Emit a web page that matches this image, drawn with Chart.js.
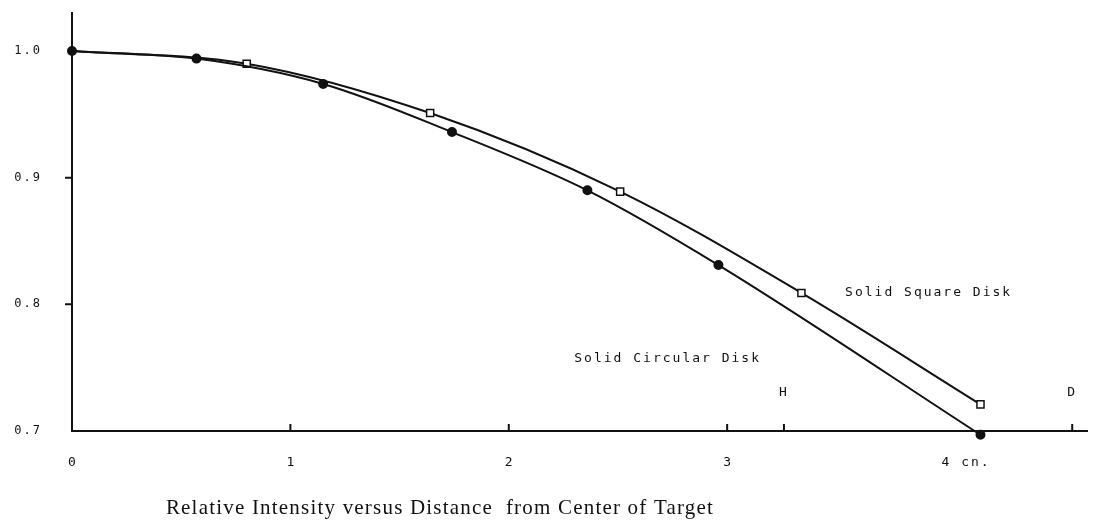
<!DOCTYPE html>
<html>
<head>
<meta charset="utf-8">
<script src="https://cdn.jsdelivr.net/npm/chart.js@4.4.1/dist/chart.umd.min.js"></script>
<style>
  html, body { margin: 0; padding: 0; background: #fff; }
  #wrap { width: 1094px; height: 523px; }
</style>
</head>
<body>
<div id="wrap"><canvas id="chart"></canvas></div>
<script>
// distance from center (cm) vs relative intensity
const circleX = [0, 0.57, 1.15, 1.74, 2.36, 2.96, 4.16];
const circleY = [1.0, 0.994, 0.974, 0.936, 0.890, 0.831, 0.697];
const squareX = [0, 0.80, 1.64, 2.51, 3.34, 4.16];
const squareY = [1.0, 0.990, 0.951, 0.889, 0.809, 0.721];

const xTicks = [0, 1, 2, 3, 4];
const xTickLabels = ['0', '1', '2', '3', '4 cn.'];
const yTicks = [0.7, 0.8, 0.9, 1.0];
const yTickLabels = ['0.7', '0.8', '0.9', '1.0'];
const markLabels = ['H', 'D'];
const markX = [3.26, 4.58];

const ink = '#111';
const mono = '"DejaVu Sans Mono", monospace';

const toPoints = (xs, ys) => xs.map((x, i) => ({ x: x, y: ys[i] }));

// tick marks, H / D marks, curve names and caption
const extras = {
    id: 'extras',
    beforeDraw(c) {
        c.ctx.letterSpacing = '2px';
    },
    afterDraw(c) {
        const ctx = c.ctx;
        const x = c.scales.x, y = c.scales.y;
        const base = y.getPixelForValue(0.7);
        ctx.save();
        ctx.strokeStyle = ink;
        ctx.lineWidth = 2;
        ctx.beginPath();
        xTicks.slice(1, 4).concat(markX).forEach(v => {
            const px = x.getPixelForValue(v);
            ctx.moveTo(px, base);
            ctx.lineTo(px, base - 7);
        });
        [0.8, 0.9].forEach(v => {
            const py = y.getPixelForValue(v);
            ctx.moveTo(x.left - 7, py);
            ctx.lineTo(x.left, py);
        });
        ctx.stroke();

        ctx.fillStyle = ink;
        ctx.font = '13px ' + mono;
        ctx.textBaseline = 'middle';
        ctx.textAlign = 'center';
        markLabels.forEach((t, i) => {
            ctx.fillText(t, x.getPixelForValue(markX[i]), base - 38);
        });
        ctx.textAlign = 'left';
        ctx.fillText('Solid Square Disk', x.getPixelForValue(3.54), y.getPixelForValue(0.809));
        ctx.fillText('Solid Circular Disk', x.getPixelForValue(2.30), y.getPixelForValue(0.757));

        ctx.letterSpacing = '1.2px';
        ctx.font = '21px "Liberation Serif", serif';
        ctx.textAlign = 'center';
        ctx.textBaseline = 'alphabetic';
        ctx.fillText('Relative Intensity versus Distance  from Center of Target', 440, 514);
        ctx.restore();
    }
};

new Chart(document.querySelector('#chart'), {
    type: 'scatter',
    data: {
        datasets: [
            {
                label: 'Solid Circular Disk',
                data: toPoints(circleX, circleY),
                showLine: true,
                borderColor: ink,
                borderWidth: 2,
                pointStyle: 'circle',
                pointRadius: 4,
                pointBackgroundColor: ink,
                pointBorderColor: ink,
                cubicInterpolationMode: 'monotone',
                clip: false
            },
            {
                label: 'Solid Square Disk',
                data: toPoints(squareX, squareY),
                showLine: true,
                borderColor: ink,
                borderWidth: 2,
                pointStyle: 'rect',
                pointRadius: [0, 5, 5, 5, 5, 5],
                pointBackgroundColor: '#fff',
                pointBorderColor: ink,
                pointBorderWidth: 1.5,
                cubicInterpolationMode: 'monotone',
                clip: false
            }
        ]
    },
    options: {
        responsive: true,
        maintainAspectRatio: false,
        animation: false,
        layout: { padding: { top: 13, right: 2, left: 0, bottom: 0 } },
        plugins: {
            legend: { display: false },
            tooltip: { enabled: false }
        },
        scales: {
            x: {
                type: 'linear',
                min: 0,
                max: 4.65,
                afterFit: s => {
                    s.height = 92;
                    s.paddingLeft = 0;
                    s.paddingRight = 0;
                },
                afterBuildTicks: s => { s.ticks = xTicks.map(v => ({ value: v })); },
                grid: { display: false, drawTicks: false },
                border: { display: true, color: ink, width: 2 },
                ticks: {
                    padding: 24,
                    align: 'start',
                    labelOffset: -4,
                    color: ink,
                    font: { family: mono, size: 13 },
                    maxRotation: 0,
                    callback: (v) => xTickLabels[xTicks.indexOf(v)]
                }
            },
            y: {
                type: 'linear',
                min: 0.7,
                max: 1.03,
                afterFit: s => {
                    s.width = 72;
                    s.paddingTop = 0;
                    s.paddingBottom = 0;
                },
                afterBuildTicks: s => { s.ticks = yTicks.map(v => ({ value: v })); },
                grid: { display: false, drawTicks: false },
                border: { display: true, color: ink, width: 2 },
                ticks: {
                    padding: 30,
                    color: ink,
                    font: { family: mono, size: 12 },
                    callback: (v) => yTickLabels[yTicks.findIndex(t => Math.abs(t - v) < 1e-6)]
                }
            }
        }
    },
    plugins: [extras]
});
</script>
</body>
</html>
